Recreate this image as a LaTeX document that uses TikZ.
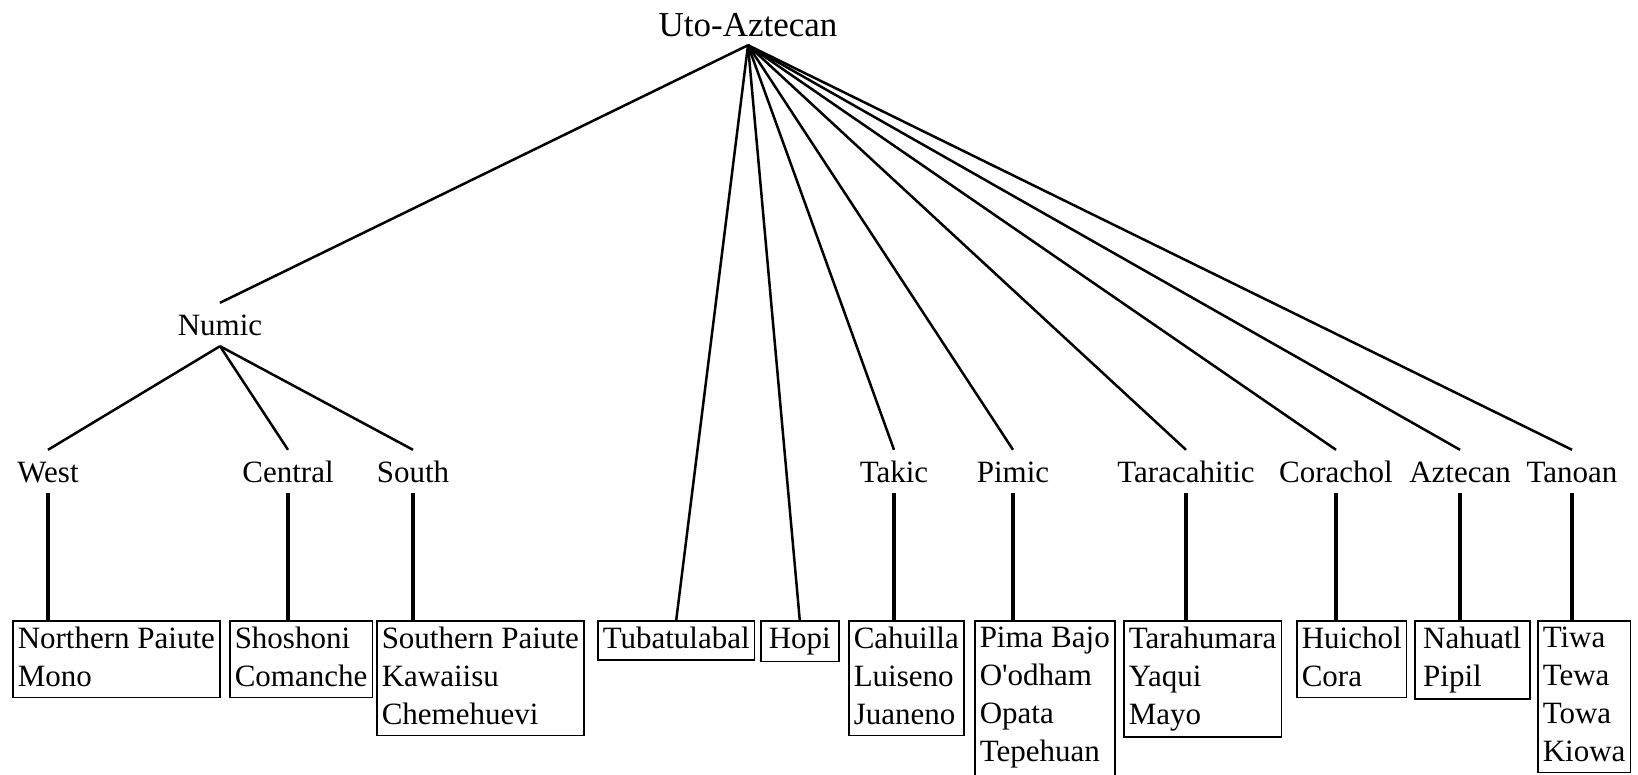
\documentclass[tikz,border=0pt]{standalone}
\usepackage{fontspec}
\setmainfont{Liberation Serif}
\tikzset{
	title/.style = {font = \fontsize{35}{42}\selectfont, anchor = base, text depth = 0pt, inner ysep = 9pt},
	family/.style = {font = \fontsize{31}{38}\selectfont, anchor = base, text height = 21pt, text depth = 0pt, inner xsep = 2pt, inner ysep = 11pt},
	lang/.style = {draw, line width = 1.5pt, font = \fontsize{31}{38}\selectfont, align = left, anchor = north west, inner xsep = 5pt, inner ysep = 6pt,
		execute at begin node = {\rule{0pt}{22pt}}, execute at end node = {\rule[-5pt]{0pt}{5pt}}},
	branch/.style = {line width = 2.5pt},
	stem/.style = {line width = 3.5pt}
}
\begin{document}
\begin{tikzpicture}[x = 1pt, y = -1pt]
	\useasboundingbox (0, 0) rectangle (1638, 774);

	\node [title] (uto) at (748, 36) {Uto-Aztecan};
	\node [family] (numic) at (220, 335) {Numic};

	\node [family] (west) at (48, 482) {West};
	\node [family] (central) at (288, 482) {Central};
	\node [family] (south) at (413, 482) {South};
	\node [family] (takic) at (894, 482) {Takic};
	\node [family] (pimic) at (1013, 482) {Pimic};
	\node [family] (taracahitic) at (1186, 482) {Taracahitic};
	\node [family] (corachol) at (1336, 482) {Corachol};
	\node [family] (aztecan) at (1460, 482) {Aztecan};
	\node [family] (tanoan) at (1572, 482) {Tanoan};

	\node [lang] (npaiute) at (12, 620) {Northern Paiute\\Mono};
	\node [lang] (shoshoni) at (229, 620) {Shoshoni\\Comanche};
	\node [lang] (spaiute) at (376, 620) {Southern Paiute\\Kawaiisu\\Chemehuevi};
	\node [lang] (tubatulabal) at (597, 620) {Tubatulabal};
	\node [lang, minimum width = 78pt] (hopi) at (760, 620) {Hopi};
	\node [lang] (cahuilla) at (848, 620) {Cahuilla\\Luiseno\\Juaneno};
	\node [lang, execute at end node = {\rule[-24pt]{0pt}{24pt}}] (pima) at (974, 620) {Pima Bajo\\O\textquotesingle odham\\Opata\\Tepehuan};
	\node [lang] (tarahumara) at (1123, 620) {Tarahumara\\Yaqui\\Mayo};
	\node [lang] (huichol) at (1296, 620) {Huichol\\Cora};
	\node [lang, minimum width = 115pt] (nahuatl) at (1414, 620) {Nahuatl\\Pipil};
	\node [lang] (tiwa) at (1537, 620) {Tiwa\\Tewa\\Towa\\Kiowa};

	\draw [branch] (uto.south) -- (numic.north);
	\draw [branch] (uto.south) -- (tubatulabal.north);
	\draw [branch] (uto.south) -- (hopi.north);
	\draw [branch] (uto.south) -- (takic.north);
	\draw [branch] (uto.south) -- (pimic.north);
	\draw [branch] (uto.south) -- (taracahitic.north);
	\draw [branch] (uto.south) -- (corachol.north);
	\draw [branch] (uto.south) -- (aztecan.north);
	\draw [branch] (uto.south) -- (tanoan.north);

	\draw [branch] (numic.south) -- (west.north);
	\draw [branch] (numic.south) -- (central.north);
	\draw [branch] (numic.south) -- (south.north);

	\draw [stem] (west.south) -- (west.south |- npaiute.north);
	\draw [stem] (central.south) -- (central.south |- shoshoni.north);
	\draw [stem] (south.south) -- (south.south |- spaiute.north);
	\draw [stem] (takic.south) -- (takic.south |- cahuilla.north);
	\draw [stem] (pimic.south) -- (pimic.south |- pima.north);
	\draw [stem] (taracahitic.south) -- (taracahitic.south |- tarahumara.north);
	\draw [stem] (corachol.south) -- (corachol.south |- huichol.north);
	\draw [stem] (aztecan.south) -- (aztecan.south |- nahuatl.north);
	\draw [stem] (tanoan.south) -- (tanoan.south |- tiwa.north);
\end{tikzpicture}
\end{document}
